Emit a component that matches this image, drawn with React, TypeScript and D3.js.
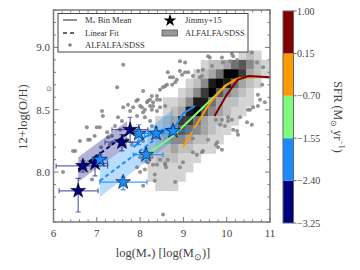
import * as d3 from 'd3';

// axis ticks
const massTicks = [6, 7, 8, 9, 10, 11];
const ohTicks = [8.0, 8.5, 9.0];
const sfrTicks = [1.0, 0.15, -0.7, -1.55, -2.4, -3.25];
// SFR bin colours, lowest bin first
const sfrColors = ['#00007f', '#1a8cff', '#7dfc7d', '#ff9a00', '#800000'];

// ALFALFA/SDSS 2d histogram (0 = empty, 9 = densest); rows top (high O/H) to bottom
const histMassStart = 8.0;
const histMassStep = 0.175;
const histOHTop = 9.05;
const histOHStep = 0.075;
const histRows = [
  '00000000000000000',
  '00000000000001210',
  '00000000122356421',
  '00000001235997321',
  '00000012489853210',
  '00000124796432100',
  '00011248853221100',
  '00012389643211000',
  '00123775322110000',
  '00124654321100000',
  '01234432211000000',
  '01223221110000000',
  '11222111000000000',
  '01111110000000000',
  '01111100000000000',
  '00111000000000000',
];

// ALFALFA/SDSS individual galaxies [log M*, 12+log(O/H)]
const alfalfaPts: [number, number][] = [
  [7.61, 8.86], [7.47, 8.68], [8.07, 8.65], [8.53, 8.68], [8.85, 8.74], [8.18, 8.57], [7.95, 8.58],
  [8.27, 8.61], [8.39, 8.58], [8.0, 8.53], [7.84, 8.52], [7.61, 8.52], [7.07, 8.36], [6.77, 8.36],
  [7.93, 8.45], [8.07, 8.48], [7.91, 8.57], [8.16, 8.56], [8.23, 8.58], [8.3, 8.56], [7.12, 8.49],
  [7.77, 8.49], [7.14, 8.45], [7.49, 8.44], [7.58, 8.41], [7.0, 8.36], [7.42, 8.37], [7.54, 8.34],
  [6.8, 8.26], [6.61, 8.25], [6.45, 8.17], [7.26, 8.28], [7.35, 8.29], [8.11, 8.44], [8.23, 8.41],
  [8.27, 8.37], [8.34, 8.32], [7.72, 8.54], [8.04, 8.52], [8.11, 8.5], [8.27, 8.5], [8.39, 8.49],
  [8.46, 8.52], [8.58, 8.53], [7.24, 8.32], [7.88, 8.32], [8.0, 8.3], [7.3, 8.22], [7.37, 8.24],
  [7.7, 8.26], [7.81, 8.22], [8.07, 8.25], [8.11, 8.17], [8.0, 8.12], [8.16, 8.08], [8.27, 8.12],
  [8.3, 8.06], [8.46, 8.1], [8.58, 8.06], [6.5, 8.17], [6.22, 8.0], [6.89, 7.94], [7.93, 8.04],
  [8.0, 8.0], [8.11, 8.02], [8.34, 7.98], [8.34, 7.93], [8.18, 8.08], [8.53, 7.66], [8.81, 7.92],
  [8.99, 8.08], [8.92, 8.04], [9.22, 8.16], [9.31, 8.14], [9.43, 8.16], [9.45, 8.17], [9.57, 8.26],
  [9.78, 8.24], [9.89, 8.42], [10.03, 8.44], [10.12, 8.42], [10.15, 8.34], [10.24, 8.33],
  [10.26, 8.3], [9.96, 8.37], [10.31, 8.44], [8.64, 8.1], [8.58, 8.07], [8.6, 8.04], [8.39, 8.06],
  [7.0, 8.13], [6.84, 8.26], [8.07, 7.89], [9.22, 8.27], [9.75, 8.22], [9.8, 8.2], [9.89, 8.18],
  [8.92, 8.89], [9.61, 8.92], [9.89, 8.92], [10.24, 8.9], [10.08, 8.89], [9.91, 8.88], [9.45, 8.82],
  [9.34, 8.81], [9.43, 8.77], [8.92, 8.81], [9.04, 8.8], [8.97, 8.78], [9.22, 8.77], [8.64, 8.8],
  [8.69, 8.76], [8.76, 8.76], [8.74, 8.7], [8.58, 8.69], [8.62, 8.7], [8.39, 8.61], [8.46, 8.58],
  [8.23, 8.53], [8.3, 8.53], [10.72, 8.53], [10.61, 8.52], [10.49, 8.5], [10.47, 8.4], [10.58, 8.38],
  [10.72, 8.62], [10.82, 8.7], [10.7, 8.88], [10.84, 8.84], [9.57, 8.93], [10.15, 8.93],
  [9.11, 8.8], [10.77, 8.58], [10.88, 8.56], [10.54, 8.5], [10.12, 8.95], [10.58, 8.96],
  [9.66, 8.85], [9.38, 8.76], [9.04, 8.88], [8.81, 8.72], [8.46, 8.66], [9.75, 8.42],
  [10.03, 8.41], [9.85, 8.38], [7.1, 8.2], [6.95, 8.29],
];

// Jimmy+15 galaxies: mass, O/H and error bar ends
type Star = { m: number; oh: number; mLo: number; mHi: number; ohLo: number; ohHi: number };
const jimmyLow: Star[] = [
  { m: 6.57, oh: 7.85, mLo: 6.13, mHi: 7.03, ohLo: 7.68, ohHi: 7.95 },
  { m: 6.68, oh: 8.05, mLo: 6.06, mHi: 7.25, ohLo: 8.0, ohHi: 8.09 },
  { m: 6.96, oh: 8.07, mLo: 6.7, mHi: 7.25, ohLo: 7.97, ohHi: 8.12 },
  { m: 7.58, oh: 8.24, mLo: 7.19, mHi: 7.95, ohLo: 8.17, ohHi: 8.3 },
  { m: 7.77, oh: 8.34, mLo: 7.35, mHi: 8.18, ohLo: 8.24, ohHi: 8.44 },
];
const jimmyMid: Star[] = [
  { m: 7.07, oh: 8.1, mLo: 6.91, mHi: 7.24, ohLo: 8.05, ohHi: 8.14 },
  { m: 7.61, oh: 7.92, mLo: 7.07, mHi: 8.16, ohLo: 7.86, ohHi: 7.96 },
  { m: 7.97, oh: 8.31, mLo: 7.78, mHi: 8.2, ohLo: 8.22, ohHi: 8.38 },
  { m: 8.14, oh: 8.14, mLo: 7.84, mHi: 8.53, ohLo: 8.09, ohHi: 8.19 },
  { m: 8.37, oh: 8.31, mLo: 8.1, mHi: 8.7, ohLo: 8.27, ohHi: 8.36 },
  { m: 8.76, oh: 8.33, mLo: 8.5, mHi: 9.25, ohLo: 8.3, ohHi: 8.37 },
];

// linear fits and their bands
const fitLow: [number, number][] = [[6.57, 8.02], [7.7, 8.31]];
const bandLowLo: [number, number][] = [[6.57, 7.92], [7.7, 8.21]];
const bandLowHi: [number, number][] = [[6.57, 8.12], [7.7, 8.41]];
const fitMid: [number, number][] = [[7.07, 7.93], [8.76, 8.37]];
const bandMidLo: [number, number][] = [[7.07, 7.8], [8.76, 8.25]];
const bandMidHi: [number, number][] = [[7.07, 8.05], [8.76, 8.5]];

// M* bin means of ALFALFA/SDSS per SFR bin
const meanMid: [number, number][] = [[7.85, 8.2], [8.1, 8.28], [8.45, 8.33], [8.8, 8.36], [9.0, 8.47], [9.27, 8.53]];
const meanGreen: [number, number][] = [[8.23, 8.16], [8.76, 8.29], [10.0, 8.7]];
const meanOrange: [number, number][] = [[8.99, 8.2], [9.3, 8.38], [9.6, 8.55], [9.95, 8.69], [10.25, 8.75], [10.75, 8.77]];
const meanRed: [number, number][] = [[9.72, 8.45], [10.0, 8.62], [10.25, 8.74], [10.5, 8.77], [11.0, 8.76]];

const W = 360;
const H = 270;
const font = '"Liberation Serif", serif';
const frame = '#7a7a7a';

export default function App() {
  const x = d3.scaleLinear().domain([6, 11]).range([53.5, 270]);
  const y = d3.scaleLinear().domain([7.6, 9.3]).range([222, 10]);
  const cb = d3.scaleLinear().domain([-3.25, 1.0]).range([223, 11]);
  const line = d3.line<[number, number]>().x((d) => x(d[0])).y((d) => y(d[1]));
  const grey = (v: number) => d3.interpolateGreys(0.18 + (v / 9) * 0.82);
  const star = d3.symbol(d3.symbolStar, 68)();
  const legendStar = d3.symbol(d3.symbolStar, 52)();

  const band = (lo: [number, number][], hi: [number, number][]) =>
    line([...lo, ...hi.slice().reverse()]) + 'Z';

  const cells: { m: number; oh: number; v: number }[] = [];
  histRows.forEach((row, r) => {
    row.split('').forEach((c, i) => {
      const v = +c;
      if (v > 0) cells.push({ m: histMassStart + i * histMassStep, oh: histOHTop - (r + 1) * histOHStep, v });
    });
  });

  const minorX = d3.range(6, 11.001, 0.2);
  const minorY = d3.range(7.6, 9.3001, 0.1);

  const errbars = (stars: Star[], color: string, op: number) =>
    stars.map((s, k) => (
      <g key={k} stroke={color} strokeOpacity={op} strokeWidth={1.2}>
        <line x1={x(s.mLo)} x2={x(s.mHi)} y1={y(s.oh)} y2={y(s.oh)} />
        <line x1={x(s.mLo)} x2={x(s.mLo)} y1={y(s.oh) - 2.5} y2={y(s.oh) + 2.5} />
        <line x1={x(s.mHi)} x2={x(s.mHi)} y1={y(s.oh) - 2.5} y2={y(s.oh) + 2.5} />
        <line x1={x(s.m)} x2={x(s.m)} y1={y(s.ohLo)} y2={y(s.ohHi)} />
        <line x1={x(s.m) - 2.5} x2={x(s.m) + 2.5} y1={y(s.ohLo)} y2={y(s.ohLo)} />
        <line x1={x(s.m) - 2.5} x2={x(s.m) + 2.5} y1={y(s.ohHi)} y2={y(s.ohHi)} />
      </g>
    ));

  return (
    <div style={{ position: 'fixed', left: 0, top: 0 }}>
      <svg width={W} height={H} style={{ display: 'block', background: '#fff' }} fontFamily={font}>
        <defs>
          <clipPath id="plot">
            <rect x={53.5} y={10} width={216.5} height={212} />
          </clipPath>
        </defs>
        <g clipPath="url(#plot)">
          {cells.map((c, k) => (
            <rect
              key={k}
              x={x(c.m)}
              y={y(c.oh + histOHStep)}
              width={x(c.m + histMassStep) - x(c.m) + 0.3}
              height={y(c.oh) - y(c.oh + histOHStep) + 0.3}
              fill={grey(c.v)}
            />
          ))}
          {alfalfaPts.map((p, k) => (
            <circle key={k} cx={x(p[0])} cy={y(p[1])} r={2} fill="#808080" fillOpacity={0.85} />
          ))}
          <path d={band(bandLowLo, bandLowHi)} fill={sfrColors[0]} fillOpacity={0.3} />
          <path d={band(bandMidLo, bandMidHi)} fill={sfrColors[1]} fillOpacity={0.3} />
          <path d={line(fitLow)!} fill="none" stroke={sfrColors[0]} strokeWidth={2} strokeDasharray="4,3" />
          <path d={line(fitMid)!} fill="none" stroke={sfrColors[1]} strokeWidth={2} strokeDasharray="4,3" />
          <path d={line(meanMid)!} fill="none" stroke={sfrColors[1]} strokeWidth={2} />
          <path d={line(meanGreen)!} fill="none" stroke={sfrColors[2]} strokeWidth={2} />
          <path d={line(meanOrange)!} fill="none" stroke={sfrColors[3]} strokeWidth={2} />
          <path d={line(meanRed)!} fill="none" stroke={sfrColors[4]} strokeWidth={2} />
          {errbars(jimmyLow, '#3c3c9a', 0.8)}
          {errbars(jimmyMid, sfrColors[1], 0.85)}
          {jimmyLow.map((s, k) => (
            <path key={k} d={star!} transform={`translate(${x(s.m)},${y(s.oh)})`} fill={sfrColors[0]} stroke="#000" strokeWidth={0.6} />
          ))}
          {jimmyMid.map((s, k) => (
            <path key={k} d={star!} transform={`translate(${x(s.m)},${y(s.oh)})`} fill={sfrColors[1]} stroke="#000" strokeWidth={0.6} />
          ))}
        </g>

        {/* frame and ticks */}
        <rect x={53.5} y={10} width={216.5} height={212} fill="none" stroke={frame} strokeWidth={1.5} />
        <g stroke={frame} strokeWidth={1}>
          {minorX.map((m, k) => {
            const major = Math.abs(m - Math.round(m)) < 1e-6;
            const len = major ? 5 : 2.5;
            return (
              <g key={k}>
                <line x1={x(m)} x2={x(m)} y1={222} y2={222 - len} />
                <line x1={x(m)} x2={x(m)} y1={10} y2={10 + len} />
              </g>
            );
          })}
          {minorY.map((o, k) => {
            const major = Math.abs(o * 2 - Math.round(o * 2)) < 1e-6;
            const len = major ? 5 : 2.5;
            return (
              <g key={k}>
                <line x1={53.5} x2={53.5 + len} y1={y(o)} y2={y(o)} />
                <line x1={270} x2={270 - len} y1={y(o)} y2={y(o)} />
              </g>
            );
          })}
        </g>
        <g fontSize={11} fill="#444">
          {massTicks.map((m) => (
            <text key={m} x={x(m)} y={237} textAnchor="middle">{m}</text>
          ))}
          {ohTicks.map((o) => (
            <text key={o} x={50} y={y(o) + 4} textAnchor="end">{o.toFixed(1)}</text>
          ))}
        </g>
        <text x={163} y={257} textAnchor="middle" fontSize={12.5} fill="#444">
          log(M<tspan fontSize={8.5} dy={3}>*</tspan><tspan dy={-3}>) [log(M</tspan><tspan fontSize={8.5} dy={3}>⊙</tspan><tspan dy={-3}>)]</tspan>
        </text>
        <text transform="translate(27,117) rotate(-90)" textAnchor="middle" fontSize={12.5} fill="#444">12+log(O/H)</text>
        <text x={48.5} y={91} textAnchor="middle" fontSize={7} fill="#666">⊙</text>

        {/* legend */}
        <rect x={58} y={13.5} width={190} height={38.5} fill="#fff" stroke="#444" strokeWidth={1} />
        <g fontSize={8.5} fill="#333">
          <line x1={63} x2={77} y1={20} y2={20} stroke="#555" strokeWidth={1.3} />
          <text x={85} y={23}>M<tspan fontSize={6} dy={2}>*</tspan><tspan dy={-2}> Bin Mean</tspan></text>
          <line x1={63} x2={77} y1={33} y2={33} stroke="#333" strokeWidth={1.3} strokeDasharray="4,3" />
          <text x={85} y={36}>Linear Fit</text>
          <circle cx={70} cy={45} r={1.8} fill="#808080" />
          <text x={85} y={48}>ALFALFA/SDSS</text>
          <path d={legendStar!} transform="translate(170,20.5)" fill="#000" />
          <text x={185} y={23}>Jimmy+15</text>
          <rect x={162} y={30} width={15.5} height={6} fill="#999" stroke="#555" strokeWidth={0.8} />
          <text x={185} y={36}>ALFALFA/SDSS</text>
        </g>

        {/* colorbar */}
        {sfrColors.map((c, k) => (
          <rect key={k} x={283} y={cb(sfrTicks[4 - k])} width={10.5} height={cb(sfrTicks[5 - k]) - cb(sfrTicks[4 - k])} fill={c} />
        ))}
        <rect x={283} y={11} width={10.5} height={212} fill="none" stroke="#666" strokeWidth={1} />
        <g fontSize={10} fill="#444">
          {sfrTicks.map((t) => (
            <g key={t}>
              <line x1={293.5} x2={296.5} y1={cb(t)} y2={cb(t)} stroke="#666" />
              <text x={297} y={cb(t) + 3.5}>{t < 0 ? '\u2212' + Math.abs(t).toFixed(2) : t.toFixed(2)}</text>
            </g>
          ))}
        </g>
        <text transform="translate(334,117) rotate(90)" textAnchor="middle" fontSize={12} fill="#444">
          SFR (M<tspan fontSize={8} dy={3}>⊙</tspan><tspan dy={-3}> yr</tspan><tspan fontSize={8} dy={-5}>−1</tspan><tspan dy={5}>)</tspan>
        </text>
      </svg>
    </div>
  );
}
